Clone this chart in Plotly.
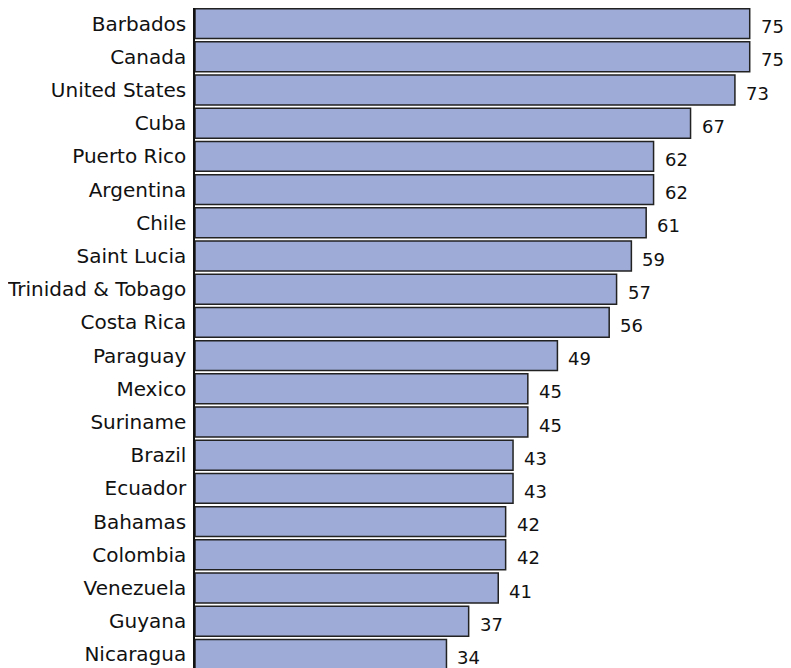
import plotly.graph_objects as go

countries = ["Barbados", "Canada", "United States", "Cuba", "Puerto Rico", "Argentina",
             "Chile", "Saint Lucia", "Trinidad & Tobago", "Costa Rica", "Paraguay", "Mexico",
             "Suriname", "Brazil", "Ecuador", "Bahamas", "Colombia", "Venezuela", "Guyana", "Nicaragua"]
values = [75, 75, 73, 67, 62, 62, 61, 59, 57, 56, 49, 45, 45, 43, 43, 42, 42, 41, 37, 34]

FONT = "DejaVu Sans"
FS = 20

fig = go.Figure()
fig.add_trace(go.Bar(
    x=values, y=list(range(len(countries))), orientation="h",
    marker=dict(color="#9dabd6", line=dict(color="#222222", width=1.5)),
    hoverinfo="skip",
))
for i, v in enumerate(values):
    fig.add_annotation(x=v, y=i, text=str(v), showarrow=False, xanchor="left",
                       xshift=9, yshift=-3, font=dict(size=18, color="#111111",
                                                      family=FONT))

fig.update_layout(
    width=783, height=664,
    margin=dict(l=187, r=8, t=0, b=0),
    paper_bgcolor="white", plot_bgcolor="white",
    bargap=0.1, showlegend=False,
    font=dict(family=FONT, size=FS, color="#111111"),
    xaxis=dict(range=[0, 79.5], visible=False, showgrid=False, zeroline=False),
    yaxis=dict(range=[19.53, -0.47], showgrid=False, zeroline=False, automargin=False,
               tickmode="array", tickvals=list(range(len(countries))), ticktext=countries,
               showline=True, linecolor="#111111", linewidth=1.5,
               ticks="", ticklabelstandoff=3, tickfont=dict(size=FS, family=FONT)),
)
fig.write_html("out.html")
